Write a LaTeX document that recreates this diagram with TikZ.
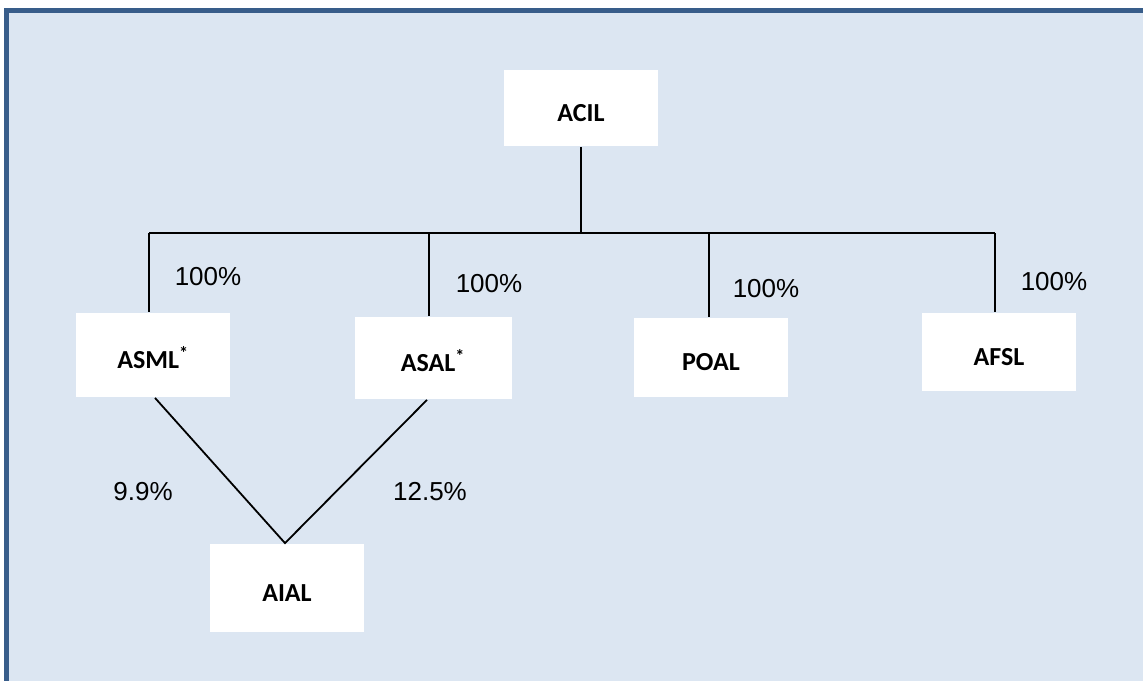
\documentclass[tikz,border=0pt]{standalone}
\usepackage{fontspec}
\setmainfont{Liberation Sans}
\newfontfamily\calibri{Carlito}
\usetikzlibrary{positioning,calc}
\definecolor{framefill}{HTML}{DCE6F2}
\definecolor{frameline}{HTML}{385D8A}

\begin{document}
\begin{tikzpicture}[x=1pt,y=-1pt]
\tikzstyle{obj}=[fill=white, rectangle, minimum width=154pt, inner sep=0pt, text height=27pt, text depth=0pt, font=\calibri\bfseries\fontsize{26}{30}\selectfont];
\tikzstyle{share}=[inner sep=0pt, font=\fontsize{26}{30}\selectfont];
\useasboundingbox (0,0) rectangle (1143,680);
\draw[frameline, fill=framefill, line width=5pt] (6.5,10.5) rectangle (1300,800);
\begin{scope}[line width=1.8pt]
  \node (acil) at (581,108) [obj, minimum height=76pt]{ACIL};
  \node (asml) at (153,355) [obj, minimum height=84pt]{ASML\textsuperscript{*}};
  \node (asal) at (433,358) [obj, minimum height=82pt, minimum width=157pt]{ASAL\textsuperscript{*}};
  \node (poal) at (711,357) [obj, minimum height=79pt]{POAL};
  \node (afsl) at (999,352) [obj, minimum height=78pt]{AFSL};
  \node (aial) at (287,588) [obj, minimum height=88pt]{AIAL};

  \node (share1) at (208,277) [share]{100\%};
  \node (share2) at (489,284) [share]{100\%};
  \node (share3) at (766,289) [share]{100\%};
  \node (share4) at (1054,282) [share]{100\%};
  \node (share5) at (143,492) [share]{9.9\%};
  \node (share6) at (430,492) [share]{12.5\%};

  \coordinate (bus) at (acil.south |- 0,233);
  \coordinate (j1) at (149,233);
  \coordinate (j2) at (429,233);
  \coordinate (j3) at (709,233);
  \coordinate (j4) at (995,233);

  \draw (acil) -- (bus);
  \draw (j1) -- (j4);
  \draw (j1) -- (j1 |- asml.north);
  \draw (j2) -- (j2 |- asal.north);
  \draw (j3) -- (j3 |- poal.north);
  \draw (j4) -- (j4 |- afsl.north);
  \draw ([xshift=2pt]asml.south) -- ([xshift=-2pt]aial.north) -- ([xshift=-6pt]asal.south);
\end{scope}
\end{tikzpicture}
\end{document}
